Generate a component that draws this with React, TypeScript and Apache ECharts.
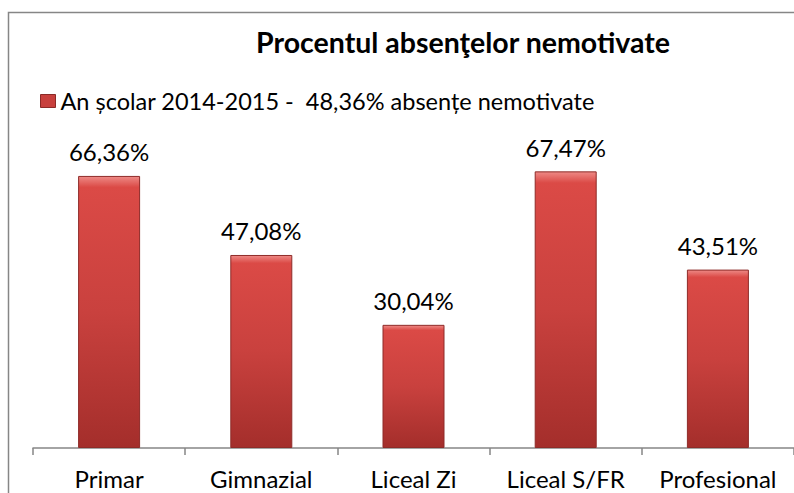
import React, { useEffect, useRef } from "react";
import * as echarts from "echarts";

const categories = ["Primar", "Gimnazial", "Liceal Zi", "Liceal S/FR", "Profesional"];
const values = [66.36, 47.08, 30.04, 67.47, 43.51];
const seriesName = "An școlar 2014-2015 -  48,36% absențe nemotivate";
const titleText = "Procentul absenţelor nemotivate";

const FONT = "Lato, 'Noto Sans', sans-serif";

export default function App() {
  const ref = useRef<HTMLDivElement>(null);
  useEffect(() => {
    if (!ref.current) return;
    const chart = echarts.init(ref.current, undefined, { renderer: "svg" });
    const barColor = new echarts.graphic.LinearGradient(0, 0, 0, 1, [
      { offset: 0, color: "#EE8A86" },
      { offset: 0.04, color: "#DB4A46" },
      { offset: 0.5, color: "#C9413E" },
      { offset: 1, color: "#A42E2B" },
    ]);
    chart.setOption({
      animation: false,
      backgroundColor: "#ffffff",
      title: {
        text: titleText,
        left: 458,
        textAlign: "center",
        top: 22,
        textStyle: { fontFamily: FONT, fontSize: 28.5, fontWeight: "bold", color: "#000" },
      },
      legend: {
        left: 35,
        top: 84,
        itemWidth: 15,
        itemHeight: 13,
        itemGap: 6,
        icon: "rect",
        textStyle: { fontFamily: FONT, fontSize: 23.5, color: "#000" },
        data: [{ name: seriesName, itemStyle: { color: "#C8403D", borderColor: "#8B2A27", borderWidth: 1 } }],
      },
      grid: { left: 33, right: -4, top: 120, bottom: 45, containLabel: false },
      xAxis: {
        type: "category",
        data: categories,
        axisLine: { lineStyle: { color: "#868686", width: 1.5 } },
        axisTick: { show: true, length: 7, lineStyle: { color: "#868686", width: 1.5 } },
        axisLabel: { interval: 0, fontFamily: FONT, fontSize: 24, color: "#000", margin: 18 },
      },
      yAxis: {
        type: "value",
        min: 0,
        max: 80,
        show: false,
      },
      graphic: [
        {
          type: "rect",
          shape: { x: 8.5, y: 12.5, width: 800, height: 500 },
          style: { fill: "none", stroke: "#868686", lineWidth: 1.5 },
          silent: true,
        },
      ],
      series: [
        {
          name: seriesName,
          type: "bar",
          data: values,
          barWidth: 62,
          itemStyle: { color: barColor, borderColor: "#8E2B28", borderWidth: 1 },
          label: {
            show: true,
            position: "top",
            distance: 12,
            fontFamily: FONT,
            fontSize: 24,
            color: "#000",
            formatter: (p: any) => p.value.toFixed(2).replace(".", ",") + "%",
          },
        },
      ],
    });
    return () => chart.dispose();
  }, []);
  return (
    <div
      ref={ref}
      style={{ position: "absolute", left: 0, top: 0, width: 794, height: 493 }}
    />
  );
}
